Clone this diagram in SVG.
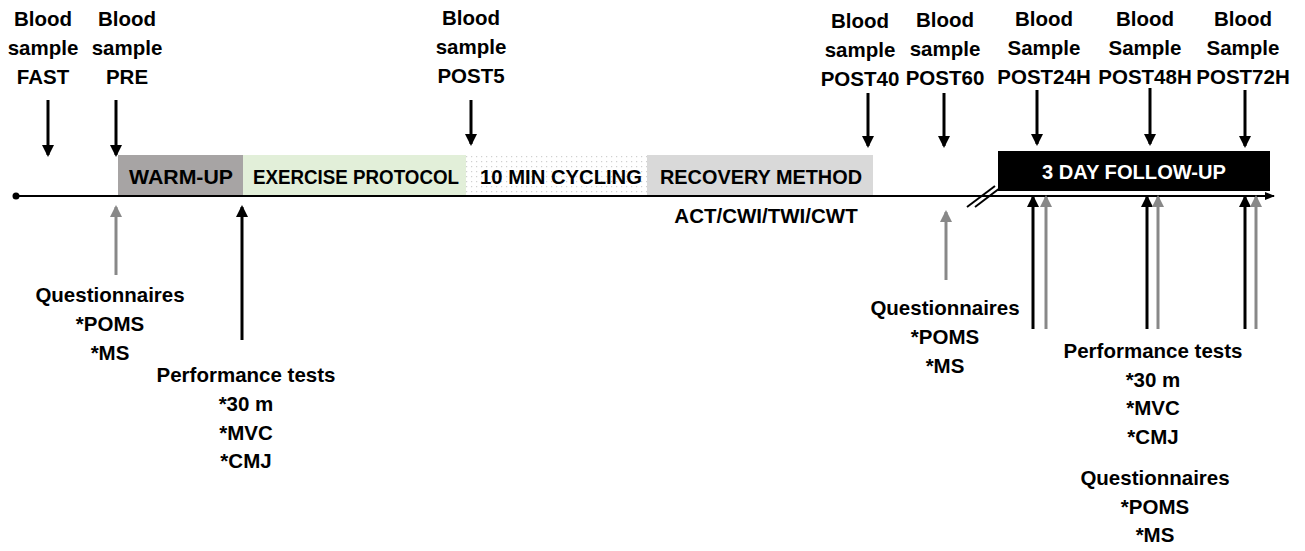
<svg xmlns="http://www.w3.org/2000/svg" width="1305" height="551" viewBox="0 0 1305 551">
<style>
text{font-family:"Liberation Sans",Arial,sans-serif;font-weight:bold;font-size:20.5px;fill:#000;text-anchor:middle}
.w{fill:#fff}
.blk{stroke:#000;stroke-width:3;fill:none}
.gry{stroke:#888;stroke-width:3;fill:none}
</style>
<defs>
<marker id="ab" viewBox="0 0 12 12" refX="10" refY="6" markerWidth="12" markerHeight="12" markerUnits="userSpaceOnUse" orient="auto"><path d="M0,0 L12,6 L0,12 z" fill="#000"/></marker>
<marker id="ag" viewBox="0 0 12 12" refX="10" refY="6" markerWidth="12" markerHeight="12" markerUnits="userSpaceOnUse" orient="auto"><path d="M0,0 L12,6 L0,12 z" fill="#888"/></marker>
<marker id="at" viewBox="0 0 10 10" refX="9" refY="5" markerWidth="10" markerHeight="10" markerUnits="userSpaceOnUse" orient="auto"><path d="M0,1 L10,5 L0,9 z" fill="#000"/></marker>
<pattern id="dots" width="5" height="5" patternUnits="userSpaceOnUse"><rect width="5" height="5" fill="#fff"/><rect x="1" y="1" width="1.2" height="1.2" fill="#d0d0d0"/></pattern>
</defs>

<g id="phases">
<g id="warmup"><rect x="118" y="155" width="125" height="40" fill="#a7a4a4"/><text x="181" y="184" textLength="104" lengthAdjust="spacingAndGlyphs">WARM-UP</text></g>
<g id="exercise"><rect x="243" y="155" width="223" height="40" fill="#e2efd9"/><text x="356" y="184" textLength="206" lengthAdjust="spacingAndGlyphs">EXERCISE PROTOCOL</text></g>
<g id="cycling"><rect x="466" y="155" width="181" height="40" fill="url(#dots)"/><text x="561" y="184" textLength="162" lengthAdjust="spacingAndGlyphs">10 MIN CYCLING</text></g>
<g id="recovery"><rect x="647" y="155" width="226" height="40" fill="#d9d9d9"/><text x="761" y="184" textLength="202" lengthAdjust="spacingAndGlyphs">RECOVERY METHOD</text></g>
<g id="followup"><rect x="998" y="151" width="272" height="40" fill="#000"/><text class="w" x="1134" y="179" textLength="184" lengthAdjust="spacingAndGlyphs">3 DAY FOLLOW-UP</text></g>
</g>

<g id="timeline">
<circle cx="16" cy="196" r="3.5" fill="#000"/>
<line x1="16" y1="196" x2="1274" y2="196" stroke="#000" stroke-width="2" marker-end="url(#at)"/>
<line x1="967" y1="207" x2="995" y2="186" stroke="#000" stroke-width="2"/>
<line x1="975" y1="207" x2="1000" y2="188" stroke="#000" stroke-width="2"/>
</g>

<g id="connectors">
<line class="blk" x1="48" y1="100" x2="48" y2="155" marker-end="url(#ab)"/>
<line class="blk" x1="116" y1="100" x2="116" y2="155" marker-end="url(#ab)"/>
<line class="blk" x1="471" y1="100" x2="471" y2="144" marker-end="url(#ab)"/>
<line class="blk" x1="868" y1="93" x2="868" y2="146" marker-end="url(#ab)"/>
<line class="blk" x1="944" y1="93" x2="944" y2="146" marker-end="url(#ab)"/>
<line class="blk" x1="1037" y1="90" x2="1037" y2="144" marker-end="url(#ab)"/>
<line class="blk" x1="1150" y1="88" x2="1150" y2="144" marker-end="url(#ab)"/>
<line class="blk" x1="1245" y1="90" x2="1245" y2="146" marker-end="url(#ab)"/>

<line class="gry" x1="116" y1="275" x2="116" y2="207" marker-end="url(#ag)"/>
<line class="blk" x1="242" y1="340" x2="242" y2="207" marker-end="url(#ab)"/>
<line class="gry" x1="946" y1="280" x2="946" y2="212" marker-end="url(#ag)"/>
<line class="blk" x1="1033" y1="329" x2="1033" y2="197" marker-end="url(#ab)"/>
<line class="gry" x1="1046" y1="329" x2="1046" y2="197" marker-end="url(#ag)"/>
<line class="blk" x1="1147" y1="329" x2="1147" y2="197" marker-end="url(#ab)"/>
<line class="gry" x1="1158" y1="329" x2="1158" y2="197" marker-end="url(#ag)"/>
<line class="blk" x1="1245" y1="329" x2="1245" y2="197" marker-end="url(#ab)"/>
<line class="gry" x1="1256" y1="329" x2="1256" y2="197" marker-end="url(#ag)"/>
</g>

<g id="bs-fast"><text x="43" y="26">Blood</text><text x="43" y="55">sample</text><text x="43" y="84">FAST</text></g>
<g id="bs-pre"><text x="127" y="26">Blood</text><text x="127" y="55">sample</text><text x="127" y="84">PRE</text></g>
<g id="bs-post5"><text x="471" y="25">Blood</text><text x="471" y="54">sample</text><text x="471" y="83">POST5</text></g>
<g id="bs-post40"><text x="860" y="28">Blood</text><text x="860" y="57">sample</text><text x="860" y="86">POST40</text></g>
<g id="bs-post60"><text x="945" y="27">Blood</text><text x="945" y="56">sample</text><text x="945" y="85">POST60</text></g>
<g id="bs-post24"><text x="1044" y="26">Blood</text><text x="1044" y="55">Sample</text><text x="1044" y="84">POST24H</text></g>
<g id="bs-post48"><text x="1145" y="26">Blood</text><text x="1145" y="55">Sample</text><text x="1145" y="84">POST48H</text></g>
<g id="bs-post72"><text x="1243" y="26">Blood</text><text x="1243" y="55">Sample</text><text x="1243" y="84">POST72H</text></g>

<g id="recovery-types"><text x="766" y="223">ACT/CWI/TWI/CWT</text></g>

<g id="q-pre"><text x="110" y="302">Questionnaires</text><text x="110" y="331">*POMS</text><text x="110" y="360">*MS</text></g>
<g id="perf-pre"><text x="246" y="382">Performance tests</text><text x="246" y="411">*30 m</text><text x="246" y="440">*MVC</text><text x="246" y="468">*CMJ</text></g>
<g id="q-post60"><text x="945" y="315">Questionnaires</text><text x="945" y="344">*POMS</text><text x="945" y="373">*MS</text></g>
<g id="perf-follow"><text x="1153" y="358">Performance tests</text><text x="1153" y="387">*30 m</text><text x="1153" y="415">*MVC</text><text x="1153" y="444">*CMJ</text></g>
<g id="q-follow"><text x="1155" y="485">Questionnaires</text><text x="1155" y="514">*POMS</text><text x="1155" y="542">*MS</text></g>
</svg>
